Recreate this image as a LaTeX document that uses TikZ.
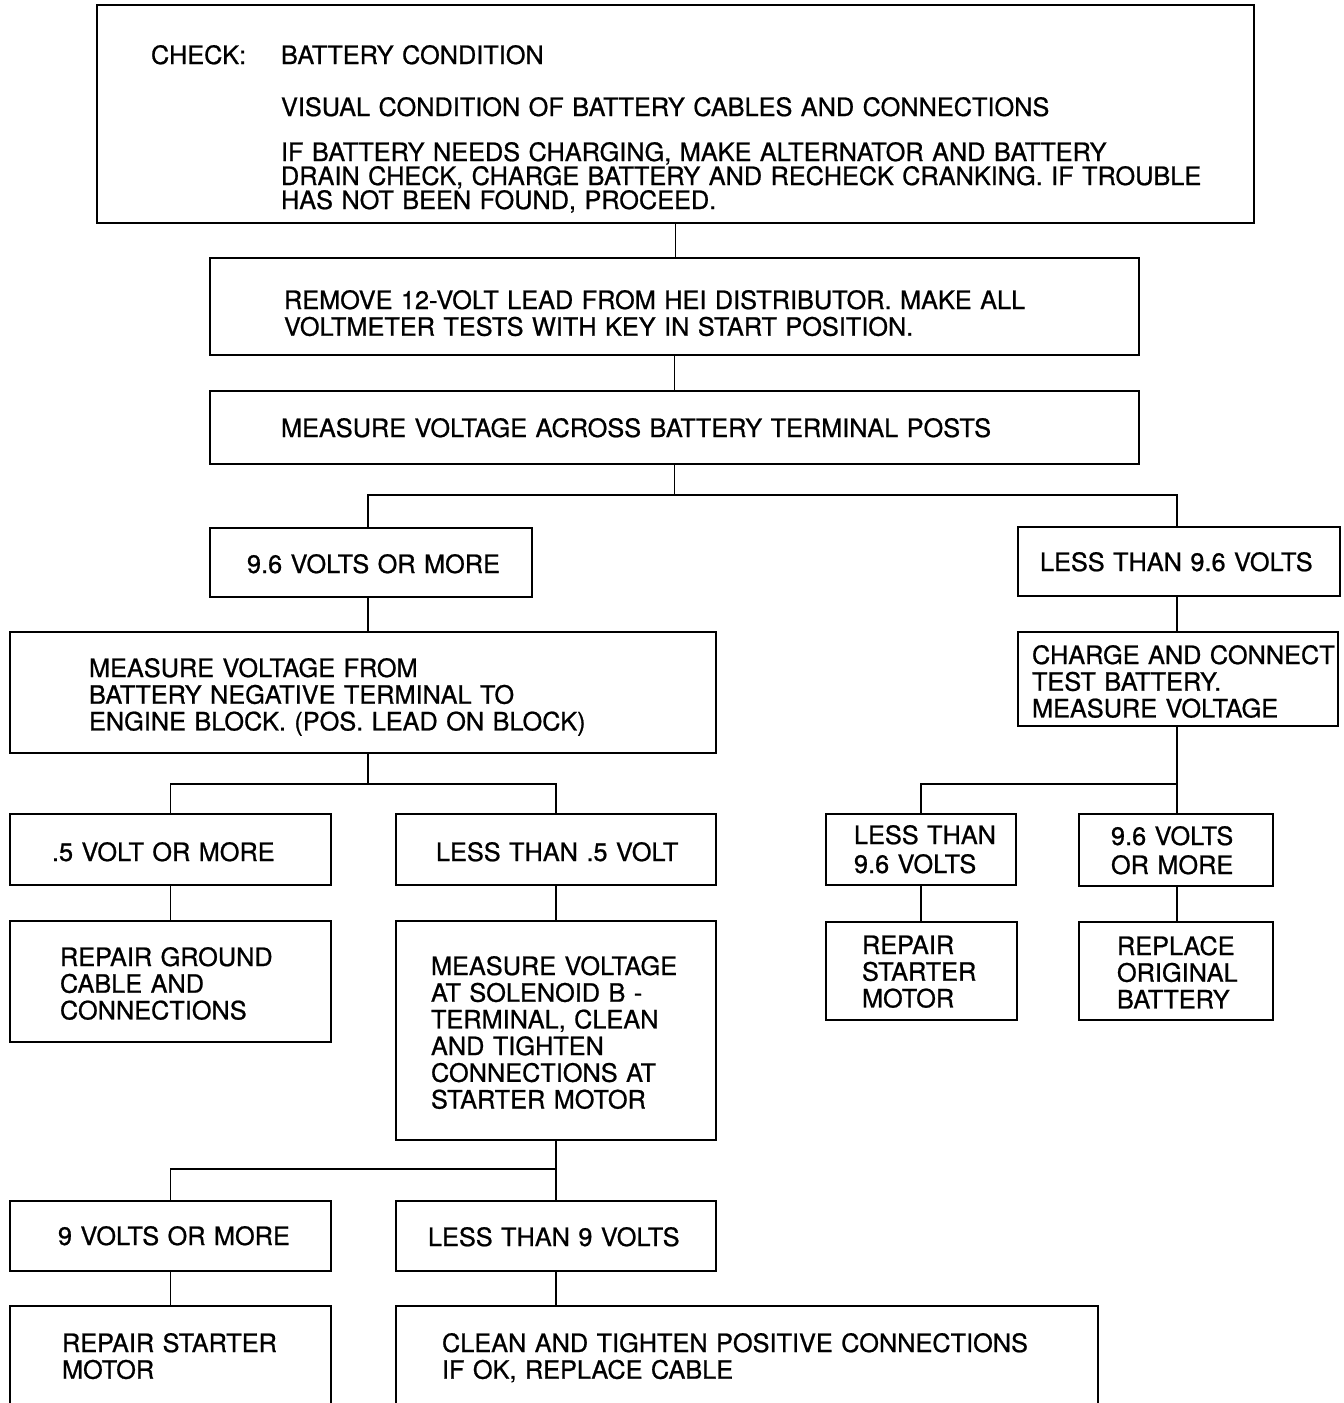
\documentclass[tikz,border=0pt]{standalone}
\usepackage{fontspec}
\setmainfont{TeX Gyre Heros}
\newfontfamily\medfont{TeX Gyre Heros}[BoldFont={TeX Gyre Heros}, BoldFeatures={FakeBold=0.8}]
\begin{document}
\begin{tikzpicture}[x=1pt,y=-1pt,
  box/.style={draw=black, line width=1.8pt, rectangle, inner sep=0pt, outer sep=0pt, anchor=north west},
  conn/.style={draw=black, line width=1.5pt},
  txt/.style={anchor=base west, align=left, text width=1000pt, inner sep=0pt, outer sep=0pt, font=\medfont\bfseries\fontsize{25.3}{26.7}\selectfont},
  tight/.style={font=\medfont\bfseries\fontsize{25.3}{24}\selectfont},
  loose/.style={font=\medfont\bfseries\fontsize{25.3}{29}\selectfont}]
\clip (0,0) rectangle (1344,1403);
\fill[white] (0,0) rectangle (1344,1403);
% boxes
\node[box, minimum width=1157pt, minimum height=218pt] (b1) at (97,5) {};
\node[box, minimum width=929pt, minimum height=97pt] (b2) at (210,258) {};
\node[box, minimum width=929pt, minimum height=73pt] (b3) at (210,391) {};
\node[box, minimum width=322pt, minimum height=69pt] (b4) at (210,528) {};
\node[box, minimum width=322pt, minimum height=69pt] (b5) at (1018,527) {};
\node[box, minimum width=706pt, minimum height=121pt] (b6) at (10,632) {};
\node[box, minimum width=320pt, minimum height=94pt] (b7) at (1018,632) {};
\node[box, minimum width=321pt, minimum height=71pt] (b8) at (10,814) {};
\node[box, minimum width=320pt, minimum height=71pt] (b9) at (396,814) {};
\node[box, minimum width=321pt, minimum height=121pt] (b10) at (10,921) {};
\node[box, minimum width=320pt, minimum height=219pt] (b11) at (396,921) {};
\node[box, minimum width=190pt, minimum height=71pt] (b12) at (826,814) {};
\node[box, minimum width=194pt, minimum height=72pt] (b13) at (1079,814) {};
\node[box, minimum width=191pt, minimum height=98pt] (b14) at (826,922) {};
\node[box, minimum width=194pt, minimum height=98pt] (b15) at (1079,922) {};
\node[box, minimum width=321pt, minimum height=70pt] (b16) at (10,1201) {};
\node[box, minimum width=320pt, minimum height=70pt] (b17) at (396,1201) {};
\node[box, minimum width=321pt, minimum height=130pt] (b18) at (10,1306) {};
\node[box, minimum width=702pt, minimum height=130pt] (b19) at (396,1306) {};
% texts
\node[txt] (t1a) at (151,64) {CHECK:};
\node[txt] (t1b) at (281,64) {BATTERY CONDITION};
\node[txt] (t1c) at (281,116) {VISUAL CONDITION OF BATTERY CABLES AND CONNECTIONS};
\node[txt,tight] (t1d) at (281,161) {IF BATTERY NEEDS CHARGING, MAKE ALTERNATOR AND BATTERY\\DRAIN CHECK, CHARGE BATTERY AND RECHECK CRANKING. IF TROUBLE\\HAS NOT BEEN FOUND, PROCEED.};
\node[txt] (t2) at (284,309) {REMOVE 12-VOLT LEAD FROM HEI DISTRIBUTOR. MAKE ALL\\VOLTMETER TESTS WITH KEY IN START POSITION.};
\node[txt] (t3) at (281,437) {MEASURE VOLTAGE ACROSS BATTERY TERMINAL POSTS};
\node[txt] (t4) at (247,573) {9.6 VOLTS OR MORE};
\node[txt] (t5) at (1040,571) {LESS THAN 9.6 VOLTS};
\node[txt] (t6) at (89,677) {MEASURE VOLTAGE FROM\\BATTERY NEGATIVE TERMINAL TO\\ENGINE BLOCK. (POS. LEAD ON BLOCK)};
\node[txt] (t7) at (1032,664) {CHARGE AND CONNECT\\TEST BATTERY.\\MEASURE VOLTAGE};
\node[txt] (t8) at (52,861) {.5 VOLT OR MORE};
\node[txt] (t9) at (436,861) {LESS THAN .5 VOLT};
\node[txt] (t10) at (60,966) {REPAIR GROUND\\CABLE AND\\CONNECTIONS};
\node[txt] (t11) at (431,975) {MEASURE VOLTAGE\\AT SOLENOID B -\\TERMINAL, CLEAN\\AND TIGHTEN\\CONNECTIONS AT\\STARTER MOTOR};
\node[txt,loose] (t12) at (854,844) {LESS THAN\\9.6 VOLTS};
\node[txt,loose] (t13) at (1111,845) {9.6 VOLTS\\OR MORE};
\node[txt] (t14) at (862,954) {REPAIR\\STARTER\\MOTOR};
\node[txt] (t15) at (1117,955) {REPLACE\\ORIGINAL\\BATTERY};
\node[txt] (t16) at (58,1245) {9 VOLTS OR MORE};
\node[txt] (t17) at (428,1246) {LESS THAN 9 VOLTS};
\node[txt] (t18) at (62,1352) {REPAIR STARTER\\MOTOR};
\node[txt] (t19) at (442,1352) {CLEAN AND TIGHTEN POSITIVE CONNECTIONS\\IF OK, REPLACE CABLE};
% junctions
\coordinate (j1) at (676,495);
\coordinate (j2) at (368,784);
\coordinate (j3) at (1177,784);
\coordinate (j4) at (556,1169);
% connectors
\draw[conn] (b1.south) -- (b1.south |- b2.north);
\draw[conn] (b2.south) -- (b2.south |- b3.north);
\draw[conn] (b3.south) -- (b3.south |- j1);
\draw[conn] (b4.north -| j2) |- (j1) -| (b5.north -| j3);
\draw[conn] (b4.south -| j2) -- (b6.north -| j2);
\draw[conn] (b5.south -| j3) -- (b7.north -| j3);
\draw[conn] (b6.south -| j2) -- (j2);
\draw[conn] (b8.north -| b10.north) |- (j2) -| (b9.north);
\draw[conn] (b8.south -| b10.north) -- (b10.north);
\draw[conn] (b9.south) -- (b11.north);
\draw[conn] (b7.south -| j3) -- (b13.north -| j3);
\draw[conn] (b12.north) |- (j3);
\draw[conn] (b12.south) -- (b12.south |- b14.north);
\draw[conn] (b13.south -| j3) -- (b15.north -| j3);
\draw[conn] (b11.south) -- (b17.north);
\draw[conn] (b16.north -| b18.north) |- (j4);
\draw[conn] (b16.south -| b18.north) -- (b18.north);
\draw[conn] (b17.south) -- (b17.south |- b19.north);
\end{tikzpicture}
\end{document}
